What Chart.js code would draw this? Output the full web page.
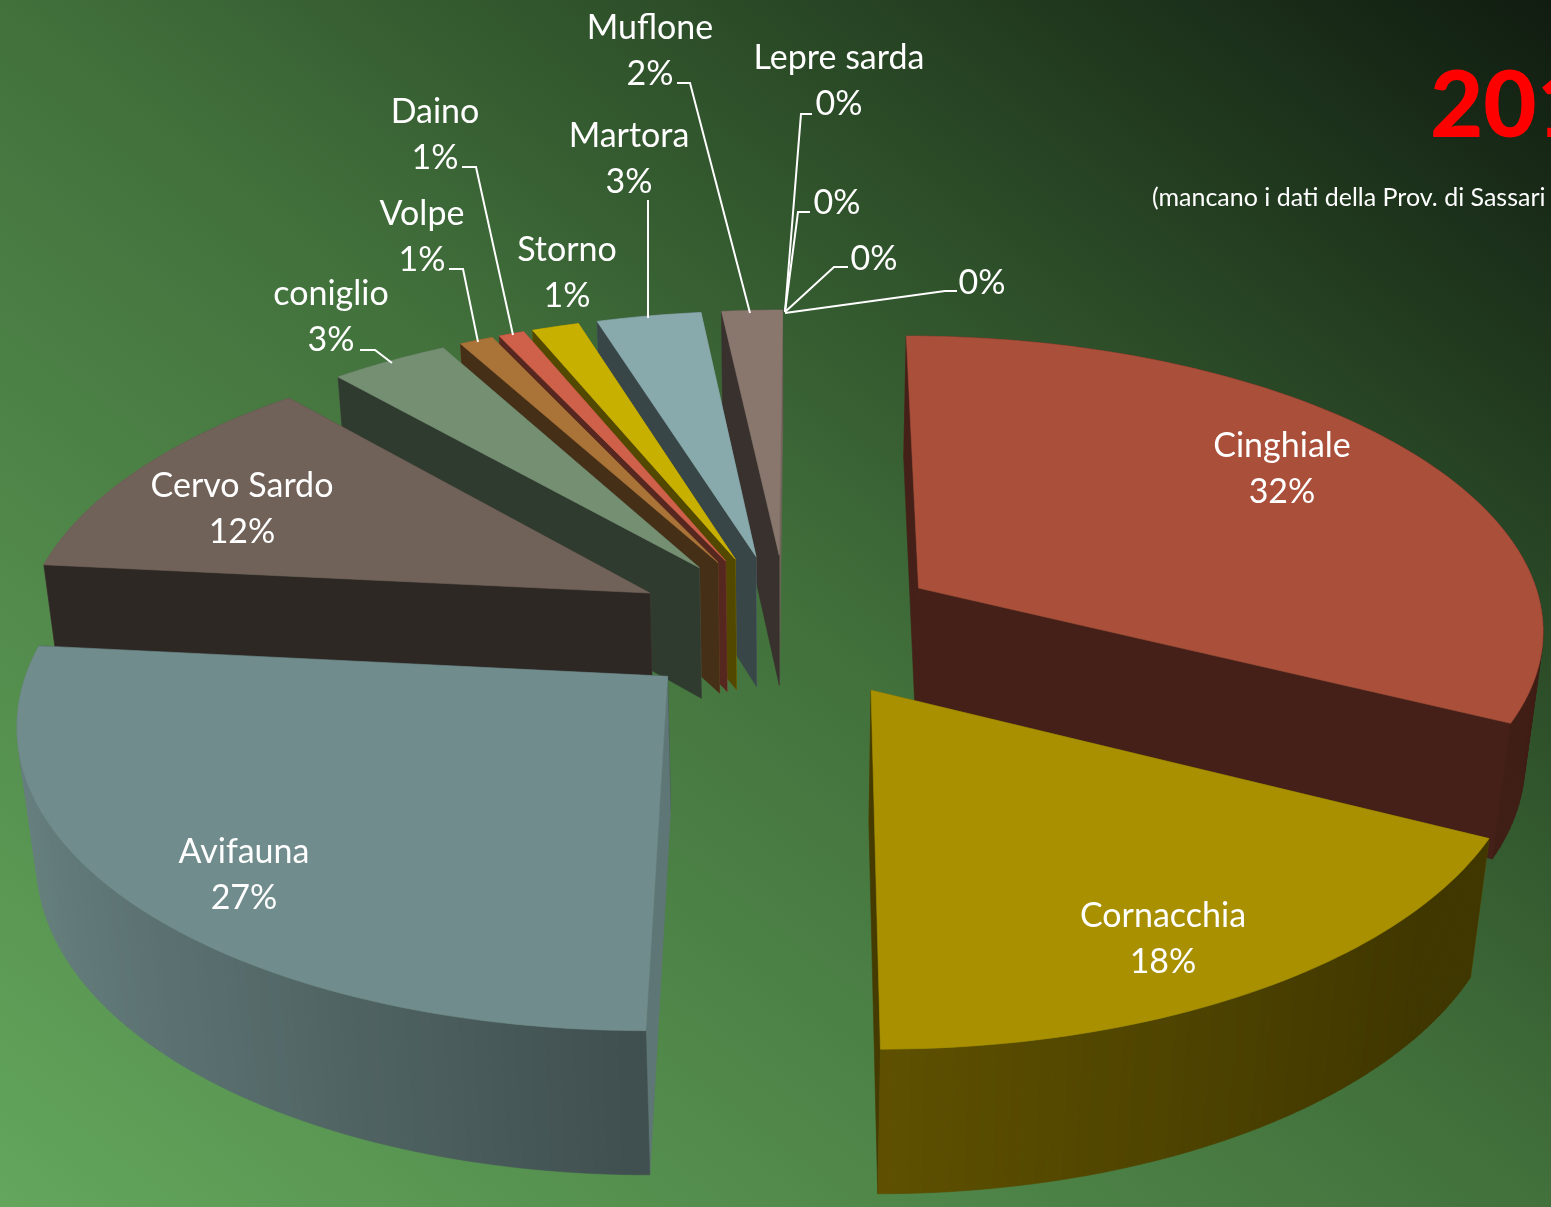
<!DOCTYPE html>
<html>
<head>
<meta charset="utf-8">
<title>Carnieri</title>
<script src="https://cdn.jsdelivr.net/npm/chart.js@4"></script>
<style>
html, body { margin: 0; padding: 0; width: 1551px; height: 1207px; overflow: hidden; }
body { background: linear-gradient(to top right, #63a65c 0%, #42713c 50%, #2c4d28 72%, #101c10 100%); }
canvas { display: block; }
</style>
</head>
<body>
<canvas id="pie" width="1551" height="1207"></canvas>
<script>
// values, clockwise from 12 o'clock
const categories = ['Cinghiale', 'Cornacchia', 'Avifauna', 'Cervo Sardo', 'coniglio', 'Volpe', 'Daino', 'Storno', 'Martora', 'Muflone', 'Lepre sarda', '', '', ''];
const values = [32.4, 17.6, 26.6, 11.85, 3.49, 1, 0.76, 1.4, 3.1, 1.8, 0, 0, 0, 0];
const colors = ['#a94f3a', '#a89000', '#718c8c', '#716259', '#748f72', '#aa7338', '#cf604a', '#c8b000', '#89aaac', '#89776e', '#8aa0a0', '#888888', '#888888', '#888888'];

// label anchors, same order as categories: [x, y of first line]
const labelPos = [[1282, 446], [1163, 916], [244, 852], [242, 486], [331, 294], [422, 214], [435, 112], [567, 250], [629, 136], [650, 28], [839, 58], [837, 203], [874, 259], [982, 283]];
const leaders = [
	[[360, 350], [375, 350], [392, 363]],
	[[449, 269], [463, 269], [478, 342]],
	[[462, 167], [476, 167], [513, 335]],
	[[648, 200], [648, 318]],
	[[677, 83], [690, 83], [750, 313]],
	[[812, 114], [801, 114], [785, 312]],
	[[810, 212], [798, 212], [785, 312]],
	[[848, 267], [834, 267], [785, 312]],
	[[957, 291], [945, 291], [785, 313]]
];

// perspective of the tilted disc
const view = { x0: 787, y0: 626, sx: 628, sy: 294, kx: 3, p: 0.13, depth: 136, q: 0.025 };
const fontName = 'Lato, "Open Sans", sans-serif';

function project(u, v, z) {
	let w = 1 + view.p * v + view.q * z;
	return [view.x0 + (view.sx * u + view.kx * v) / w, view.y0 + (view.depth * z - view.sy * v) / w];
}

function shade(hex, f) {
	let n = parseInt(hex.slice(1), 16);
	let r = Math.round((n >> 16 & 255) * f);
	let g = Math.round((n >> 8 & 255) * f);
	let b = Math.round((n & 255) * f);
	return 'rgb(' + r + ',' + g + ',' + b + ')';
}

function fillPoly(ctx, pts, color) {
	ctx.beginPath();
	ctx.moveTo(pts[0][0], pts[0][1]);
	for (let i = 1; i < pts.length; i++) ctx.lineTo(pts[i][0], pts[i][1]);
	ctx.closePath();
	ctx.fillStyle = color;
	ctx.strokeStyle = color;
	ctx.lineWidth = 0.6;
	ctx.fill();
	ctx.stroke();
}

// outer wall gets lighter towards the left of the pie
function wallShade(a) {
	let s = Math.cos(a);
	if (s < 0) return 0.56 + 0.36 * -s;
	return Math.max(0.38, 0.56 - 0.23 * s);
}

// cut face: only the ones looking right catch the light
function cutShade(nx) {
	return nx > 0 ? 0.41 + 0.43 * nx : 0.41;
}

function drawSlice(ctx, s) {
	let pts = [];
	let steps = Math.max(2, Math.ceil((s.end - s.start) / 0.02));
	for (let i = 0; i <= steps; i++) {
		let a = s.start + (s.end - s.start) * i / steps;
		pts.push({ a: a, u: s.cu + Math.cos(a), v: s.cv - Math.sin(a) });
	}
	let first = pts[0], last = pts[pts.length - 1];
	let walls = [];
	walls.push({
		d: (s.cv + first.v) / 2,
		pts: [project(s.cu, s.cv, 0), project(first.u, first.v, 0), project(first.u, first.v, 1), project(s.cu, s.cv, 1)],
		c: shade(s.color, cutShade(Math.sin(s.start)))
	});
	walls.push({
		d: (s.cv + last.v) / 2,
		pts: [project(s.cu, s.cv, 0), project(last.u, last.v, 0), project(last.u, last.v, 1), project(s.cu, s.cv, 1)],
		c: shade(s.color, cutShade(-Math.sin(s.end)))
	});
	for (let i = 0; i < steps; i++) {
		let p1 = pts[i], p2 = pts[i + 1];
		walls.push({
			d: (p1.v + p2.v) / 2,
			pts: [project(p1.u, p1.v, 0), project(p2.u, p2.v, 0), project(p2.u, p2.v, 1), project(p1.u, p1.v, 1)],
			c: shade(s.color, wallShade((p1.a + p2.a) / 2))
		});
	}
	walls.sort((a, b) => b.d - a.d);
	walls.forEach(f => fillPoly(ctx, f.pts, f.c));

	let top = [project(s.cu, s.cv, 0)];
	pts.forEach(p => top.push(project(p.u, p.v, 0)));
	fillPoly(ctx, top, s.color);
}

// replaces the flat arcs: same arc elements, drawn as a tilted solid
const pie3d = {
	id: 'pie3d',
	beforeDatasetsDraw(chart) {
		let ctx = chart.ctx;
		let slices = [];
		chart.getDatasetMeta(0).data.forEach((arc, i) => {
			if (arc.endAngle - arc.startAngle <= 0) return;
			let mid = (arc.startAngle + arc.endAngle) / 2;
			let e = arc.options.offset / 4 / arc.outerRadius;
			slices.push({
				start: arc.startAngle,
				end: arc.endAngle,
				cu: e * Math.cos(mid),
				cv: -e * Math.sin(mid),
				mid: mid,
				color: colors[i]
			});
		});
		slices.sort((a, b) => b.cv - a.cv);
		slices.forEach(s => drawSlice(ctx, s));
		return false;
	},
	afterDraw(chart) {
		let ctx = chart.ctx;
		ctx.save();
		ctx.strokeStyle = '#ffffff';
		ctx.lineWidth = 2;
		leaders.forEach(l => {
			ctx.beginPath();
			ctx.moveTo(l[0][0], l[0][1]);
			for (let i = 1; i < l.length; i++) ctx.lineTo(l[i][0], l[i][1]);
			ctx.stroke();
		});

		let total = values.reduce((a, b) => a + b, 0);
		ctx.fillStyle = '#ffffff';
		ctx.textAlign = 'center';
		ctx.textBaseline = 'middle';
		ctx.font = '34px ' + fontName;
		categories.forEach((name, i) => {
			let pct = Math.round(values[i] / total * 100) + '%';
			let p = labelPos[i];
			if (name) {
				ctx.fillText(name, p[0], p[1]);
				ctx.fillText(pct, p[0], p[1] + 46);
			} else {
				ctx.fillText(pct, p[0], p[1]);
			}
		});

		ctx.textAlign = 'left';
		ctx.font = '25px ' + fontName;
		ctx.fillText('(mancano i dati della Prov. di Sassari', 1152, 198);
		ctx.fillStyle = '#ff0000';
		ctx.textBaseline = 'alphabetic';
		ctx.font = '900 92px ' + fontName;
		ctx.fillText('201', 1430, 137);
		ctx.restore();
	}
};

new Chart(document.getElementById('pie'), {
	type: 'pie',
	data: {
		labels: categories,
		datasets: [{
			data: values,
			backgroundColor: colors,
			borderWidth: 0,
			offset: 402
		}]
	},
	options: {
		responsive: false,
		animation: false,
		plugins: {
			legend: { display: false },
			tooltip: { enabled: false },
			title: { display: false }
		}
	},
	plugins: [pie3d]
});
</script>
</body>
</html>
